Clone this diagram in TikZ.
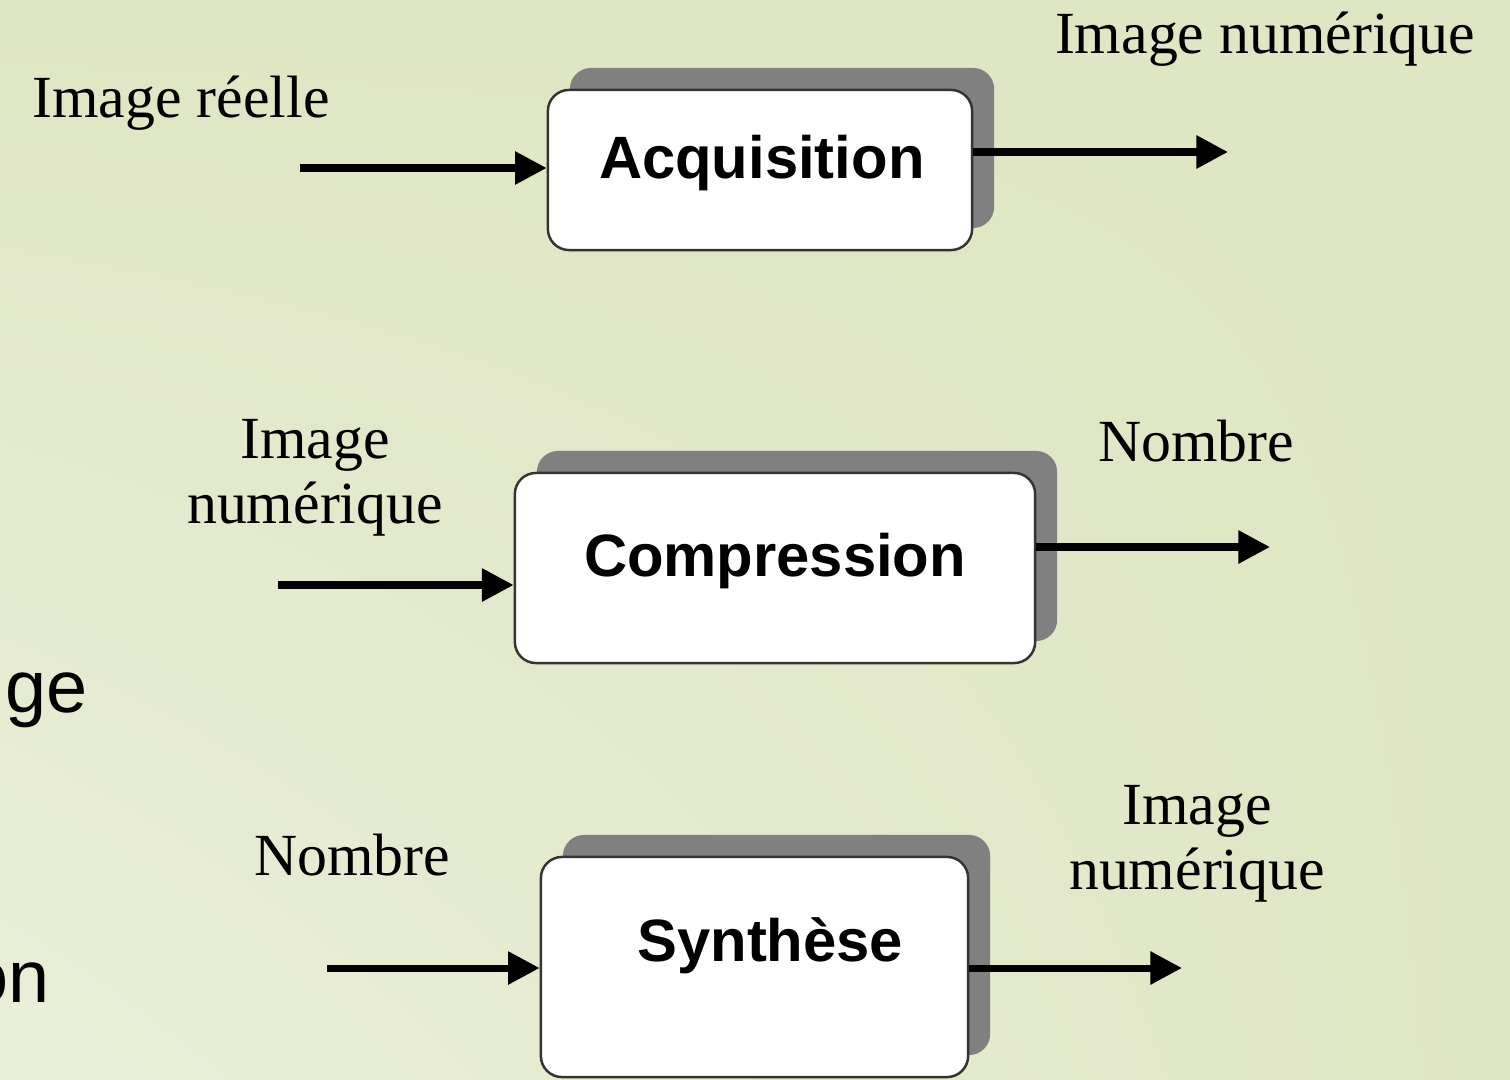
\documentclass[tikz,border=0pt]{standalone}
\usepackage{fontspec}
\setmainfont{Liberation Serif}
\setsansfont{Liberation Sans}
\usetikzlibrary{arrows.meta,shadows,shadings}

\definecolor{fondhaut}{HTML}{DFE6C3}
\definecolor{fondbas}{HTML}{EAEFDA}
\definecolor{ombre}{HTML}{808080}

\tikzset{
  etape/.style={draw=black!80, line width=0.7pt, fill=white, rounded corners=6pt,
    font=\sffamily\bfseries\fontsize{17}{20}\selectfont, text height=12pt, text depth=7pt,
    general shadow={fill=ombre, shadow xshift=0.22cm, shadow yshift=0.22cm}},
  fleche/.style={line width=2pt, -{Triangle[length=9pt,width=9pt]}},
  legende/.style={font=\fontsize{17}{18.5}\selectfont, align=center},
  morceau/.style={font=\sffamily\fontsize{21}{25}\selectfont, inner sep=0pt}
}

\begin{document}
\begin{tikzpicture}[x=0.01cm,y=-0.01cm]
\useasboundingbox (0,0) rectangle (1510,1079);
\shade[upper left=fondhaut, upper right=fondhaut, lower left=fondbas, lower right=fondhaut]
  (0,0) rectangle (1510,1079);

% les trois etapes
\node[etape, minimum width=4.24cm, minimum height=1.6cm] (acq) at (760,170) {\hspace*{1pt}Acquisition};
\node[etape, minimum width=5.2cm, minimum height=1.9cm] (comp) at (775,568) {Compression};
\node[etape, minimum width=4.27cm, minimum height=2.2cm, text depth=15pt] (synth) at (754.5,967) {\hspace*{9pt}Synthèse};

% entrees et sorties
\coordinate (e1) at (300,168);
\coordinate (s1) at (1228,152);
\coordinate (e2) at (278,585);
\coordinate (s2) at (1270,547);
\coordinate (e3) at (327,968);
\coordinate (s3) at (1182,968);
\draw[fleche] (e1) -- (e1 -| acq.west);
\draw[fleche] (acq.east |- s1) -- (s1);
\draw[fleche] (e2) -- (e2 -| comp.west);
\draw[fleche] (comp.east |- s2) -- (s2);
\draw[fleche] (e3) -- (e3 -| synth.west);
\draw[fleche] (synth.east |- s3) -- (s3);

% legendes
\node[legende, anchor=base] (reelle) at (181,118) {Image réelle};
\node[legende, anchor=base] (num1) at (1265,54) {Image numérique};
\node[legende] (num2) at (315,478) {Image\\numérique};
\node[legende, anchor=base] (nb1) at (1196,461) {Nombre};
\node[legende, anchor=base] (nb2) at (352,875) {Nombre};
\node[legende] (num3) at (1197,844) {Image\\numérique};

\node[morceau, anchor=base west] (frag1) at (5,712) {ge};
\node[morceau, anchor=base east] (frag2) at (50,1002) {on};
\end{tikzpicture}
\end{document}
